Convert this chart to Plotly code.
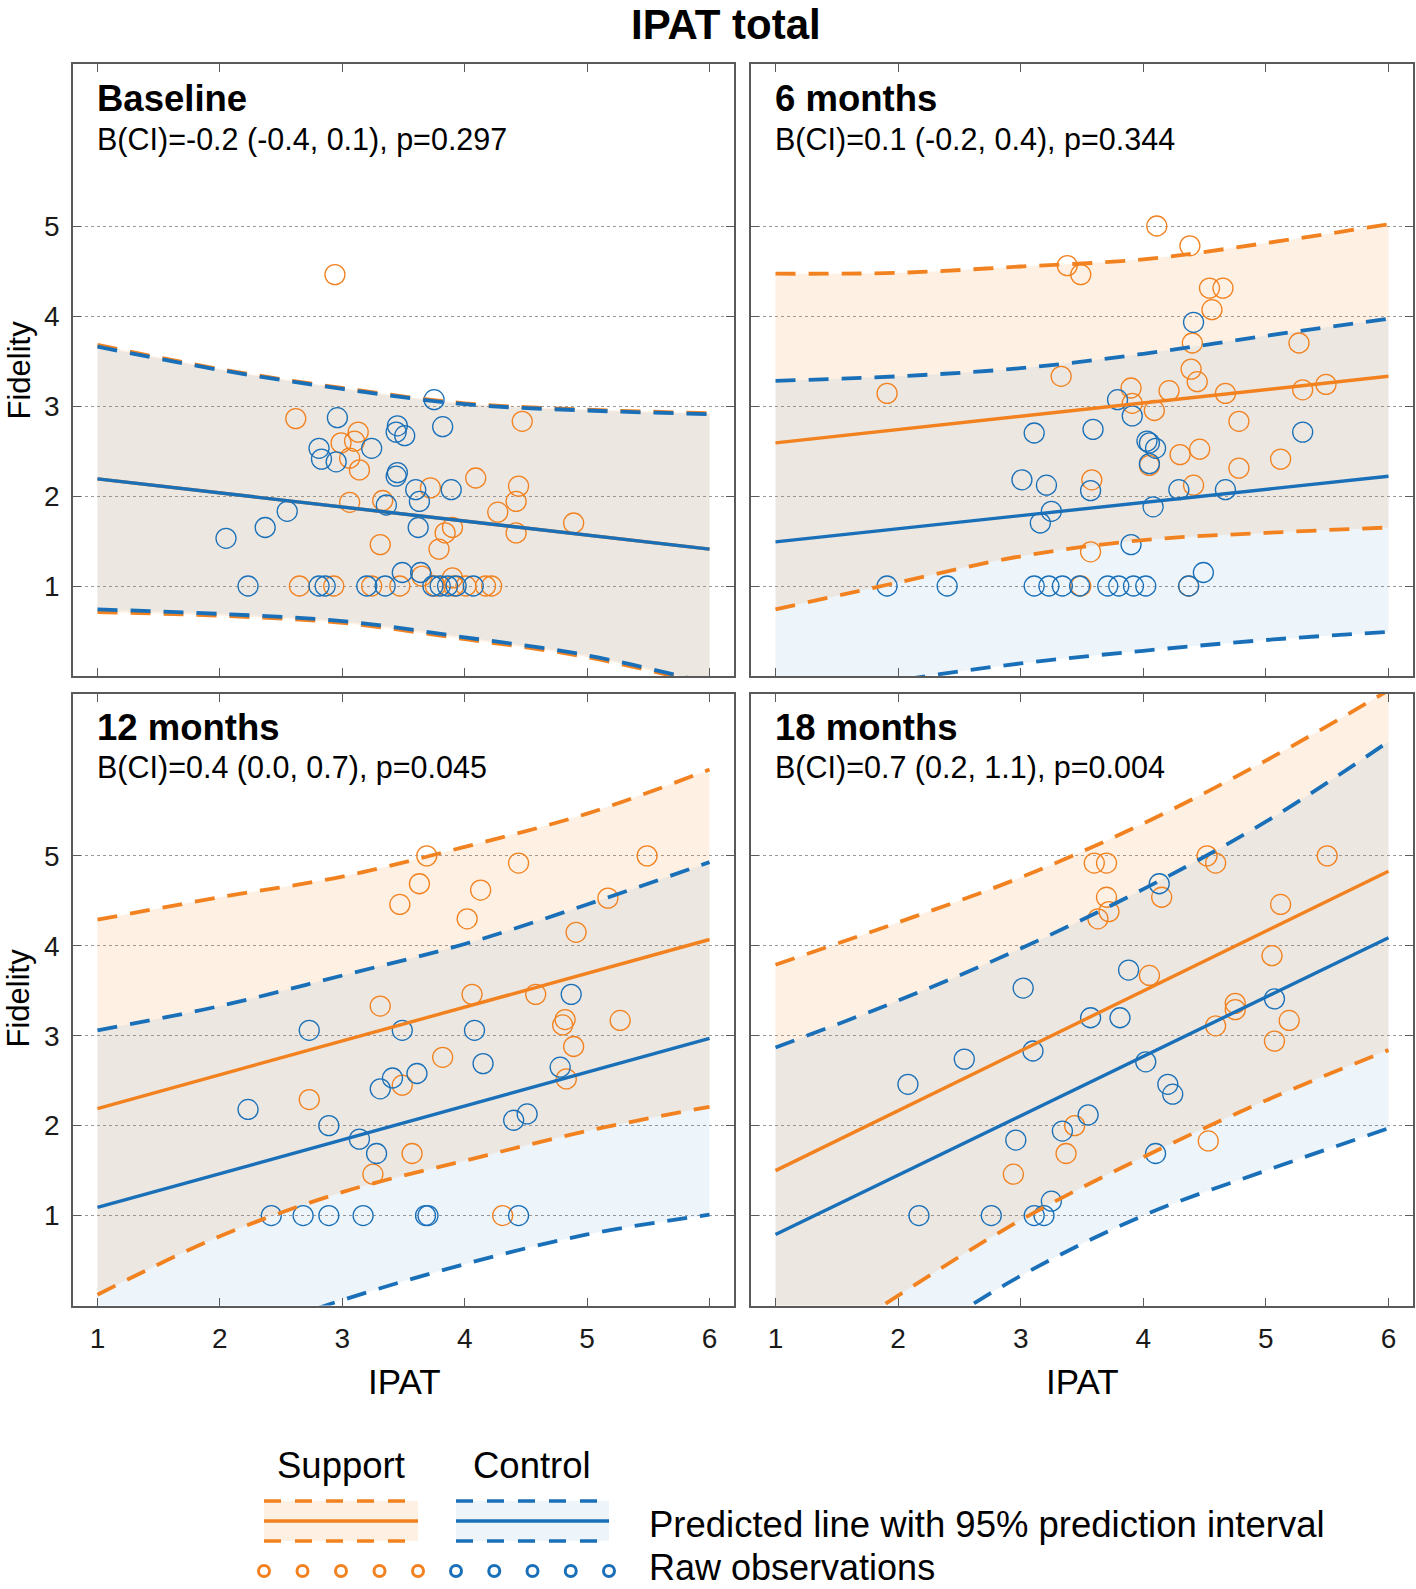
import plotly.graph_objects as go

W, H = 1416, 1589
FONT = "Liberation Sans, Arial, Helvetica, sans-serif"
ORANGE = "#F28220"
BLUE = "#1A70B8"
ORANGE_FILL = "rgba(247,140,40,0.13)"
BLUE_FILL = "rgba(20,125,200,0.08)"
AXIS_COL = "#5a5a5a"
TEXT_COL = "#1a1a1a"

# ---------------- data ----------------
panel_titles = ["Baseline", "6 months", "12 months", "18 months"]
panel_stats = ["B(CI)=-0.2 (-0.4, 0.1), p=0.297",
               "B(CI)=0.1 (-0.2, 0.4), p=0.344",
               "B(CI)=0.4 (0.0, 0.7), p=0.045",
               "B(CI)=0.7 (0.2, 1.1), p=0.004"]
x_ticks = [1, 2, 3, 4, 5, 6]
y_ticks = [1, 2, 3, 4, 5]

curve_x = [1, 2, 3, 4, 5, 6]
line_x = [1, 6]

# Baseline
base_sup_line = [2.19, 1.41]
base_sup_upper = [3.68, 3.41, 3.20, 3.03, 2.96, 2.92]
base_sup_lower = [0.71, 0.67, 0.59, 0.41, 0.21, -0.10]
base_con_line = [2.19, 1.41]
base_con_upper = [3.66, 3.40, 3.19, 3.02, 2.95, 2.91]
base_con_lower = [0.74, 0.69, 0.61, 0.43, 0.23, -0.08]
base_sup_x = [2.94, 2.62, 3.13, 2.99, 3.10, 3.06, 3.14, 4.47, 4.09, 4.44, 4.42, 4.27, 4.42, 4.89,
              3.72, 3.06, 3.33, 3.90, 3.84, 3.79, 3.31, 3.65, 3.90,
              2.65, 2.93, 3.24, 3.47, 3.76, 3.91, 4.01, 4.17, 4.22]
base_sup_y = [4.46, 2.86, 2.71, 2.59, 2.61, 2.42, 2.29, 2.83, 2.20, 2.11, 1.94, 1.82, 1.59, 1.70,
              2.09, 1.93, 1.95, 1.65, 1.59, 1.41, 1.46, 1.11, 1.09,
              1, 1, 1, 1, 1, 1, 1, 1, 1]
base_con_x = [3.75, 2.96, 3.82, 3.45, 3.44, 3.51, 2.81, 2.83, 2.95, 3.24, 3.45, 3.44, 3.60, 3.89,
              3.63, 3.36, 2.55, 2.37, 2.05, 3.62, 3.49, 3.64,
              2.23, 2.81, 2.86, 3.20, 3.35, 3.74, 3.80, 3.86, 3.93, 4.07]
base_con_y = [3.07, 2.87, 2.77, 2.78, 2.71, 2.67, 2.53, 2.41, 2.38, 2.53, 2.26, 2.22, 2.07, 2.07,
              1.94, 1.90, 1.83, 1.65, 1.53, 1.65, 1.15, 1.15,
              1, 1, 1, 1, 1, 1, 1, 1, 1, 1]

# 6 months
m6_sup_line = [2.59, 3.33]
m6_sup_upper = [4.47, 4.48, 4.55, 4.63, 4.81, 5.02]
m6_sup_lower = [0.74, 1.04, 1.33, 1.51, 1.59, 1.65]
m6_con_line = [1.49, 2.22]
m6_con_upper = [3.28, 3.33, 3.42, 3.58, 3.78, 3.97]
m6_con_lower = [-0.30, -0.05, 0.14, 0.28, 0.40, 0.49]
m6_sup_x = [4.11, 4.38, 3.38, 3.49, 4.54, 4.65, 4.56, 4.40, 5.27, 3.33, 4.39, 4.44, 1.91, 3.90,
            4.21, 4.67, 5.30, 5.49, 3.91, 4.09, 4.78, 4.30, 4.46, 5.12, 4.78, 4.05, 3.58, 4.41,
            3.57, 3.49, 4.37]
m6_sup_y = [5.00, 4.78, 4.56, 4.46, 4.31, 4.31, 4.07, 3.70, 3.70, 3.33, 3.41, 3.27, 3.14, 3.20,
            3.17, 3.14, 3.18, 3.24, 3.03, 2.95, 2.83, 2.46, 2.52, 2.41, 2.31, 2.34, 2.18, 2.12,
            1.38, 1.00, 1.00]
m6_con_x = [4.41, 3.79, 3.91, 3.11, 3.59, 4.03, 4.05, 4.10, 5.30, 4.05, 3.01, 3.21, 3.57, 4.29,
            4.67, 3.25, 3.16, 4.08, 3.90, 4.49,
            1.91, 2.40, 3.11, 3.23, 3.34, 3.48, 3.71, 3.80, 3.92, 4.02, 4.37]
m6_con_y = [3.93, 3.07, 2.89, 2.70, 2.74, 2.61, 2.59, 2.53, 2.71, 2.36, 2.18, 2.12, 2.06, 2.07,
            2.07, 1.83, 1.70, 1.88, 1.46, 1.15,
            1, 1, 1, 1, 1, 1, 1, 1, 1, 1, 1]

# 12 months
m12_sup_line = [2.19, 4.07]
m12_sup_upper = [4.29, 4.54, 4.77, 5.10, 5.47, 5.96]
m12_sup_lower = [0.12, 0.77, 1.26, 1.61, 1.94, 2.21]
m12_con_line = [1.09, 2.97]
m12_con_upper = [3.06, 3.33, 3.67, 4.02, 4.46, 4.93]
m12_con_lower = [-0.88, -0.41, 0.06, 0.46, 0.79, 1.01]
m12_sup_x = [3.69, 4.44, 5.49, 3.63, 4.13, 3.47, 5.17, 4.02, 4.91, 4.06, 4.58, 3.31, 4.82, 4.80,
             5.27, 4.89, 3.82, 3.49, 2.73, 4.83, 3.57, 3.25, 4.31]
m12_sup_y = [5.00, 4.92, 5.00, 4.69, 4.62, 4.46, 4.53, 4.30, 4.15, 3.46, 3.46, 3.33, 3.18, 3.12,
             3.17, 2.88, 2.76, 2.45, 2.29, 2.52, 1.69, 1.46, 1.00]
m12_con_x = [4.87, 2.73, 3.49, 4.08, 4.15, 4.78, 3.61, 3.41, 3.31, 2.23, 4.51, 4.40, 2.89, 3.14,
             3.28, 2.42, 2.68, 2.89, 3.17, 3.68, 3.70, 4.44]
m12_con_y = [3.46, 3.06, 3.06, 3.06, 2.69, 2.65, 2.58, 2.53, 2.41, 2.18, 2.13, 2.06, 2.00, 1.85,
             1.69, 1, 1, 1, 1, 1, 1, 1]

# 18 months
m18_sup_line = [1.50, 4.83]
m18_sup_upper = [3.79, 4.26, 4.76, 5.36, 6.06, 6.84]
m18_sup_lower = [-0.79, 0.11, 0.95, 1.65, 2.28, 2.84]
m18_con_line = [0.79, 4.09]
m18_con_upper = [2.87, 3.39, 3.97, 4.63, 5.38, 6.27]
m18_con_lower = [-1.29, -0.50, 0.33, 1.00, 1.50, 1.97]
m18_sup_x = [3.60, 3.70, 4.52, 4.59, 5.50, 3.70, 4.15, 3.72, 3.63, 5.12, 5.05, 4.05, 4.75, 4.75,
             5.19, 4.59, 5.07, 3.44, 3.37, 2.94, 4.53]
m18_sup_y = [4.92, 4.92, 5.00, 4.92, 5.00, 4.54, 4.54, 4.38, 4.30, 4.46, 3.89, 3.67, 3.36, 3.29,
             3.17, 3.11, 2.94, 2.00, 1.69, 1.46, 1.83]
m18_con_x = [4.13, 3.88, 3.02, 3.57, 3.81, 5.07, 3.10, 2.54, 4.02, 2.08, 4.20, 4.24, 3.55, 3.34,
             2.96, 4.10, 3.25, 2.17, 2.76, 3.11, 3.19]
m18_con_y = [4.69, 3.73, 3.53, 3.20, 3.20, 3.41, 2.83, 2.74, 2.71, 2.46, 2.46, 2.35, 2.12, 1.94,
             1.84, 1.69, 1.16, 1.00, 1.00, 1.00, 1.00]

panels = [
    (base_sup_line, base_sup_upper, base_sup_lower, base_con_line, base_con_upper, base_con_lower,
     base_sup_x, base_sup_y, base_con_x, base_con_y),
    (m6_sup_line, m6_sup_upper, m6_sup_lower, m6_con_line, m6_con_upper, m6_con_lower,
     m6_sup_x, m6_sup_y, m6_con_x, m6_con_y),
    (m12_sup_line, m12_sup_upper, m12_sup_lower, m12_con_line, m12_con_upper, m12_con_lower,
     m12_sup_x, m12_sup_y, m12_con_x, m12_con_y),
    (m18_sup_line, m18_sup_upper, m18_sup_lower, m18_con_line, m18_con_upper, m18_con_lower,
     m18_sup_x, m18_sup_y, m18_con_x, m18_con_y),
]

# ---------------- layout geometry (pixels) ----------------
col_px = [(73, 734), (751, 1413)]
row_px = [(64, 676), (694, 1305.5)]


def px(x):
    return x / W


def py(y):
    return 1 - y / H


fig = go.Figure()

DASH = "20px,13px"

for i, p in enumerate(panels):
    (s_line, s_up, s_lo, c_line, c_up, c_lo, s_x, s_y, c_x, c_y) = p
    ax = "" if i == 0 else str(i + 1)
    xa, ya = "x" + ax, "y" + ax
    # fills
    for lo, up, fc in [(s_lo, s_up, ORANGE_FILL), (c_lo, c_up, BLUE_FILL)]:
        fig.add_trace(go.Scatter(x=curve_x, y=lo, mode="lines", line=dict(width=0, shape="spline"),
                                 hoverinfo="skip", xaxis=xa, yaxis=ya))
        fig.add_trace(go.Scatter(x=curve_x, y=up, mode="lines", line=dict(width=0, shape="spline"),
                                 fill="tonexty", fillcolor=fc, hoverinfo="skip", xaxis=xa, yaxis=ya))
    # raw observations
    fig.add_trace(go.Scatter(x=s_x, y=s_y, mode="markers",
                             marker=dict(symbol="circle-open", size=20, color=ORANGE,
                                         line=dict(width=1.3, color=ORANGE)),
                             xaxis=xa, yaxis=ya))
    fig.add_trace(go.Scatter(x=c_x, y=c_y, mode="markers",
                             marker=dict(symbol="circle-open", size=20, color=BLUE,
                                         line=dict(width=1.3, color=BLUE)),
                             xaxis=xa, yaxis=ya))
    # prediction interval bounds
    for yv, col in [(s_up, ORANGE), (s_lo, ORANGE), (c_up, BLUE), (c_lo, BLUE)]:
        fig.add_trace(go.Scatter(x=curve_x, y=yv, mode="lines",
                                 line=dict(color=col, width=3.8, dash=DASH, shape="spline"),
                                 xaxis=xa, yaxis=ya))
    # predicted lines
    for yv, col in [(s_line, ORANGE), (c_line, BLUE)]:
        fig.add_trace(go.Scatter(x=line_x, y=yv, mode="lines", line=dict(color=col, width=3.4),
                                 xaxis=xa, yaxis=ya))

axis_common = dict(showline=True, linecolor=AXIS_COL, linewidth=1.6, mirror="ticks",
                   ticks="inside", ticklen=8, tickwidth=1.3, tickcolor=AXIS_COL,
                   zeroline=False, tickfont=dict(family=FONT, size=28, color=TEXT_COL))

layout = dict(width=W, height=H, margin=dict(l=0, r=0, t=0, b=0, pad=0),
              paper_bgcolor="white", plot_bgcolor="white", showlegend=False,
              font=dict(family=FONT, color=TEXT_COL))

for i in range(4):
    r, c = divmod(i, 2)
    ax = "" if i == 0 else str(i + 1)
    x0, x1 = col_px[c]
    y0, y1 = row_px[r]
    layout["xaxis" + ax] = dict(axis_common, domain=[px(x0), px(x1)], range=[0.8, 6.2],
                                tickvals=x_ticks, showticklabels=(r == 1), showgrid=False,
                                anchor="y" + ax, ticklabelstandoff=7)
    layout["yaxis" + ax] = dict(axis_common, domain=[py(y1), py(y0)], range=[0, 6.8],
                                tickvals=y_ticks, showticklabels=(c == 0), showgrid=True,
                                gridcolor="#9a9a9a", griddash="dot", gridwidth=1,
                                anchor="x" + ax, ticklabelstandoff=6)

fig.update_layout(**layout)

ann = []


def text(t, x, y, size, xanchor="left", yanchor="middle", bold=False, angle=0):
    ann.append(dict(text=("<b>%s</b>" % t) if bold else t, x=px(x), y=py(y), xref="paper",
                    yref="paper", xanchor=xanchor, yanchor=yanchor, showarrow=False,
                    textangle=angle, borderpad=0,
                    font=dict(family=FONT, size=size, color="black")))


text("IPAT total", 726, 0, 42, xanchor="center", yanchor="top", bold=True)
title_pos = [(98, 98), (776, 98), (98, 727), (776, 727)]
for i, (tx, ty) in enumerate(title_pos):
    text(panel_titles[i], tx - 2, ty, 36.5, bold=True)
    text(panel_stats[i], tx - 2, ty + 41, 30.5)
text("Fidelity", 0, 370, 31, xanchor="left", angle=-90)
text("Fidelity", 0, 998, 31, xanchor="left", angle=-90)
text("IPAT", 404, 1381, 35, xanchor="center")
text("IPAT", 1082, 1381, 35, xanchor="center")

# legend
text("Support", 341, 1465, 36.5, xanchor="center")
text("Control", 532, 1465, 36.5, xanchor="center")
text("Predicted line with 95% prediction interval", 648, 1524, 36.5)
text("Raw observations", 648, H, 36, yanchor="bottom")

shapes = []
for (lx0, lx1), col, fc in [((264, 418), ORANGE, ORANGE_FILL), ((456, 609), BLUE, BLUE_FILL)]:
    shapes.append(dict(type="rect", xref="paper", yref="paper", x0=px(lx0), x1=px(lx1),
                       y0=py(1541), y1=py(1501), fillcolor=fc, line=dict(width=0)))
    for yy, dsh in [(1501, "17px,14px"), (1541, "17px,14px"), (1521, "solid")]:
        shapes.append(dict(type="line", xref="paper", yref="paper", x0=px(lx0), x1=px(lx1),
                           y0=py(yy), y1=py(yy), line=dict(color=col, width=3.6, dash=dsh)))
    for k in range(5):
        cx = lx0 + k * (lx1 - lx0) / 4.0
        shapes.append(dict(type="circle", xref="paper", yref="paper", x0=px(cx - 5.5),
                           x1=px(cx + 5.5), y0=py(1576.5), y1=py(1565.5),
                           line=dict(color=col, width=3)))

fig.update_layout(annotations=ann, shapes=shapes)
fig.write_html("out.html", config={"displayModeBar": False},
               post_script="document.body.style.margin='0';document.body.style.padding='0';"
                           "document.documentElement.style.overflow='hidden';")
